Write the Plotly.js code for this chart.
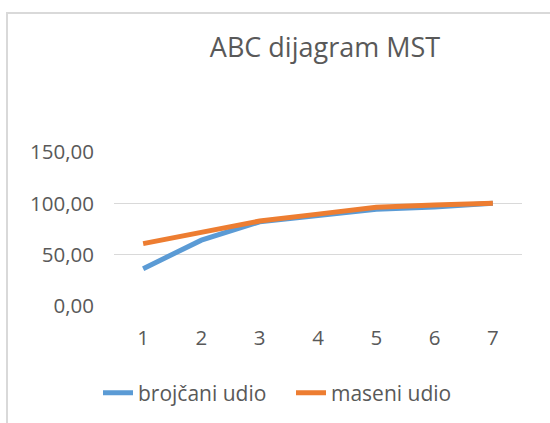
<!DOCTYPE html>
<html>
<head>
<meta charset="utf-8">
<script src="https://cdn.plot.ly/plotly-3.0.1.min.js"></script>
<style>
html,body{margin:0;padding:0;background:#fff;overflow:hidden;}
#wrap{position:relative;width:550px;height:423px;}
#chart{position:absolute;left:0;top:0;width:550px;height:423px;}
#frame{position:absolute;left:6px;top:12px;width:600px;height:500px;border:2px solid #d9d9d9;pointer-events:none;}
</style>
</head>
<body>
<div id="wrap"><div id="chart"></div><div id="frame"></div></div>
<script>
const categories = ['1','2','3','4','5','6','7'];
const brojcaniUdio = [36.4, 64.1, 82.0, 87.5, 94.2, 96.5, 100.0];
const maseniUdio = [60.8, 71.5, 82.8, 89.5, 96.1, 98.4, 100.0];
const yTicks = [0, 50, 100, 150];

const font = "'Open Sans', 'Liberation Sans', sans-serif";
const traces = [
  {x: categories, y: brojcaniUdio, type: 'scatter', mode: 'lines', name: 'brojčani udio',
   line: {color: '#5B9BD5', width: 5}},
  {x: categories, y: maseniUdio, type: 'scatter', mode: 'lines', name: 'maseni udio',
   line: {color: '#ED7D31', width: 5}}
];
const layout = {
  width: 550, height: 423,
  margin: {l: 114, r: 28, t: 152, b: 117},
  paper_bgcolor: 'rgba(0,0,0,0)', plot_bgcolor: '#fff',
  separators: ',.',
  font: {family: font, color: '#595959', size: 20},
  title: {text: 'ABC dijagram MST', font: {family: font, size: 27, color: '#595959'},
          x: 325/550, xanchor: 'center', y: 1 - 48/423, yanchor: 'middle'},
  xaxis: {type: 'category', range: [-0.5, 6.5], showgrid: false, zeroline: false,
          showline: false, ticks: '', ticklabelstandoff: 17,
          tickfont: {family: font, size: 20.5, color: '#595959'}},
  yaxis: {range: [0, 150], tickvals: yTicks, tickformat: '.2f', showgrid: true,
          gridcolor: '#d9d9d9', gridwidth: 1.5, zeroline: false, showline: false,
          ticks: '', ticklabelstandoff: 19,
          tickfont: {family: font, size: 20.5, color: '#595959'}},
  showlegend: true,
  legend: {orientation: 'h', x: 291/550, xref: 'container', xanchor: 'center',
           y: 1 - 393/423, yref: 'container', yanchor: 'middle',
           font: {family: font, size: 21, color: '#595959'}, bgcolor: 'rgba(0,0,0,0)',
           itemwidth: 30, tracegroupgap: 0, entrywidth: 148, entrywidthmode: 'pixels'}
};
Plotly.newPlot('chart', traces, layout, {displayModeBar: false, staticPlot: true});
</script>
</body>
</html>
